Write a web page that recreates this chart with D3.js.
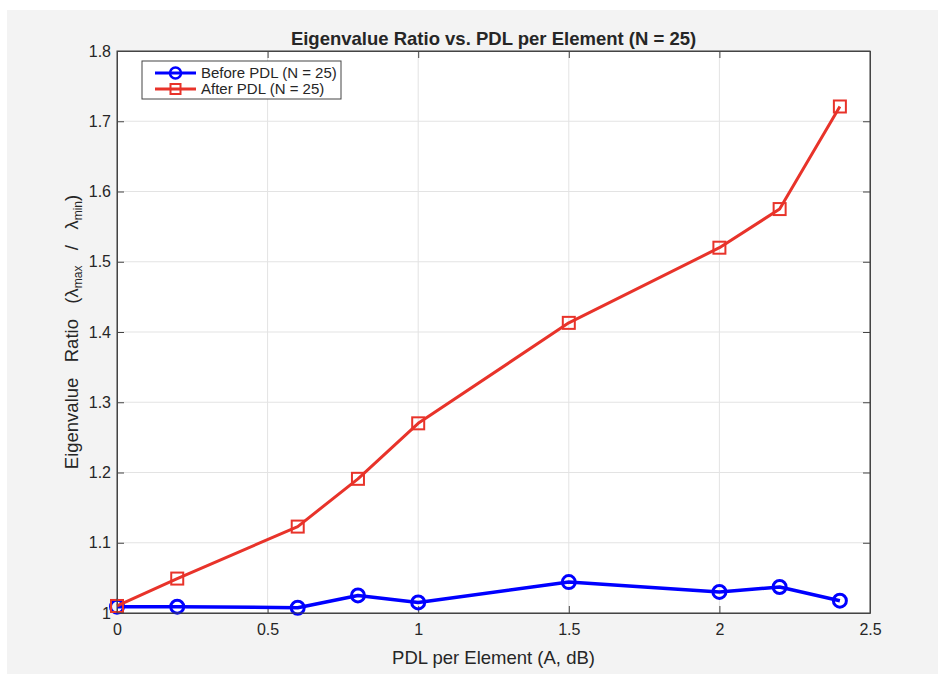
<!DOCTYPE html>
<html>
<head>
<meta charset="utf-8">
<script src="https://cdn.jsdelivr.net/npm/d3@7"></script>
<style>
  body { margin: 0; background: #fff; }
  text { font-family: "Liberation Sans", Arial, sans-serif; fill: #262626; }
</style>
</head>
<body>
<svg id="chart" width="938" height="674"></svg>
<script>
// data
const pdl = [0, 0.2, 0.6, 0.8, 1.0, 1.5, 2.0, 2.2, 2.4];
const before = [1.009, 1.009, 1.0075, 1.025, 1.015, 1.044, 1.030, 1.037, 1.0175];
const after = [1.010, 1.049, 1.123, 1.191, 1.270, 1.413, 1.520, 1.575, 1.721];
const xTicks = [0, 0.5, 1, 1.5, 2, 2.5];
const yTicks = [1, 1.1, 1.2, 1.3, 1.4, 1.5, 1.6, 1.7, 1.8];
const seriesNames = ['Before PDL (N = 25)', 'After PDL (N = 25)'];

const svg = d3.select('#chart');
const W = 938, H = 674;
const m = { left: 117, right: 870, top: 51, bottom: 613 };

// figure background
svg.append('rect').attr('x', 7).attr('y', 10).attr('width', W - 7).attr('height', H - 10).attr('fill', '#f3f3f3');
svg.append('rect').attr('x', m.left).attr('y', m.top)
  .attr('width', m.right - m.left).attr('height', m.bottom - m.top).attr('fill', '#fff');

const x = d3.scaleLinear().domain([0, 2.5]).range([m.left, m.right]);
const y = d3.scaleLinear().domain([1, 1.8]).range([m.bottom, m.top]);

// grid
const grid = svg.append('g').attr('stroke', '#e3e3e3').attr('stroke-width', 1);
grid.selectAll('.gx').data(xTicks).join('line')
  .attr('x1', d => x(d)).attr('x2', d => x(d)).attr('y1', m.top).attr('y2', m.bottom);
grid.selectAll('.gy').data(yTicks).join('line')
  .attr('y1', d => y(d)).attr('y2', d => y(d)).attr('x1', m.left).attr('x2', m.right);

// axes, ticks inward on all four sides
const fmt = d => String(d);
const tk = 7;
svg.append('g').attr('transform', `translate(0,${m.bottom})`)
  .call(d3.axisBottom(x).tickValues(xTicks).tickFormat(fmt).tickSizeInner(-tk).tickSizeOuter(0).tickPadding(11));
svg.append('g').attr('transform', `translate(0,${m.top})`)
  .call(d3.axisTop(x).tickValues(xTicks).tickFormat('').tickSizeInner(-tk).tickSizeOuter(0));
svg.append('g').attr('transform', `translate(${m.left},0)`)
  .call(d3.axisLeft(y).tickValues(yTicks).tickFormat(fmt).tickSizeInner(-tk).tickSizeOuter(0).tickPadding(6));
svg.append('g').attr('transform', `translate(${m.right},0)`)
  .call(d3.axisRight(y).tickValues(yTicks).tickFormat('').tickSizeInner(-tk).tickSizeOuter(0));
svg.selectAll('.domain').attr('stroke', '#444').attr('stroke-width', 1);
svg.selectAll('.tick line').attr('stroke', '#444');
svg.selectAll('.tick text').attr('font-size', 16).attr('fill', '#262626')
  .attr('font-family', '"Liberation Sans", Arial, sans-serif');

// lines
const line = d3.line().x(d => x(d[0])).y(d => y(d[1]));
const blueData = pdl.map((v, i) => [v, before[i]]);
const redData = pdl.map((v, i) => [v, after[i]]);
const blue = '#0000ff', red = '#e8332a';

svg.append('path').datum(blueData).attr('d', line)
  .attr('fill', 'none').attr('stroke', blue).attr('stroke-width', 3.5).attr('stroke-linejoin', 'round');
svg.selectAll('.bm').data(blueData).join('circle')
  .attr('cx', d => x(d[0])).attr('cy', d => y(d[1])).attr('r', 6.5)
  .attr('fill', 'none').attr('stroke', blue).attr('stroke-width', 3);

svg.append('path').datum(redData).attr('d', line)
  .attr('fill', 'none').attr('stroke', red).attr('stroke-width', 3).attr('stroke-linejoin', 'round');
svg.selectAll('.rm').data(redData).join('rect')
  .attr('x', d => x(d[0]) - 6).attr('y', d => y(d[1]) - 6).attr('width', 12).attr('height', 12)
  .attr('fill', 'none').attr('stroke', red).attr('stroke-width', 2);

// axes box on top
svg.append('rect').attr('x', m.left).attr('y', m.top)
  .attr('width', m.right - m.left).attr('height', m.bottom - m.top)
  .attr('fill', 'none').attr('stroke', '#444').attr('stroke-width', 1);

// title & labels
svg.append('text').attr('x', (m.left + m.right) / 2).attr('y', 45).attr('text-anchor', 'middle')
  .attr('font-size', 18.5).attr('font-weight', 'bold').attr('fill', '#1a1a1a')
  .text('Eigenvalue Ratio vs. PDL per Element (N = 25)');
svg.append('text').attr('x', (m.left + m.right) / 2).attr('y', 664).attr('text-anchor', 'middle')
  .attr('font-size', 18.5).text('PDL per Element (A, dB)');

const yl = svg.append('text').attr('transform', `translate(78,${(m.top + m.bottom) / 2}) rotate(-90)`)
  .attr('text-anchor', 'middle').attr('font-size', 18.5).attr('xml:space', 'preserve');
yl.append('tspan').text('Eigenvalue   Ratio   (λ');
yl.append('tspan').attr('font-size', 12).attr('dy', 4).text('max');
yl.append('tspan').attr('dy', -4).text('   /   λ');
yl.append('tspan').attr('font-size', 12).attr('dy', 4).text('min');
yl.append('tspan').attr('dy', -4).text(')');

// legend
const lg = svg.append('g');
lg.append('rect').attr('x', 142).attr('y', 61).attr('width', 199).attr('height', 38)
  .attr('fill', '#fff').attr('stroke', '#444').attr('stroke-width', 1);
const rows = [
  { name: seriesNames[0], color: blue, mark: 'circle', yy: 73 },
  { name: seriesNames[1], color: red, mark: 'square', yy: 89 }
];
rows.forEach(r => {
  lg.append('line').attr('x1', 155).attr('x2', 196).attr('y1', r.yy).attr('y2', r.yy)
    .attr('stroke', r.color).attr('stroke-width', 3);
  if (r.mark === 'circle') {
    lg.append('circle').attr('cx', 175.5).attr('cy', r.yy).attr('r', 5.5)
      .attr('fill', 'none').attr('stroke', r.color).attr('stroke-width', 2.5);
  } else {
    lg.append('rect').attr('x', 170.5).attr('y', r.yy - 5).attr('width', 10).attr('height', 10)
      .attr('fill', 'none').attr('stroke', r.color).attr('stroke-width', 2);
  }
  lg.append('text').attr('x', 201).attr('y', r.yy + 5).attr('font-size', 15).text(r.name);
});
</script>
</body>
</html>
